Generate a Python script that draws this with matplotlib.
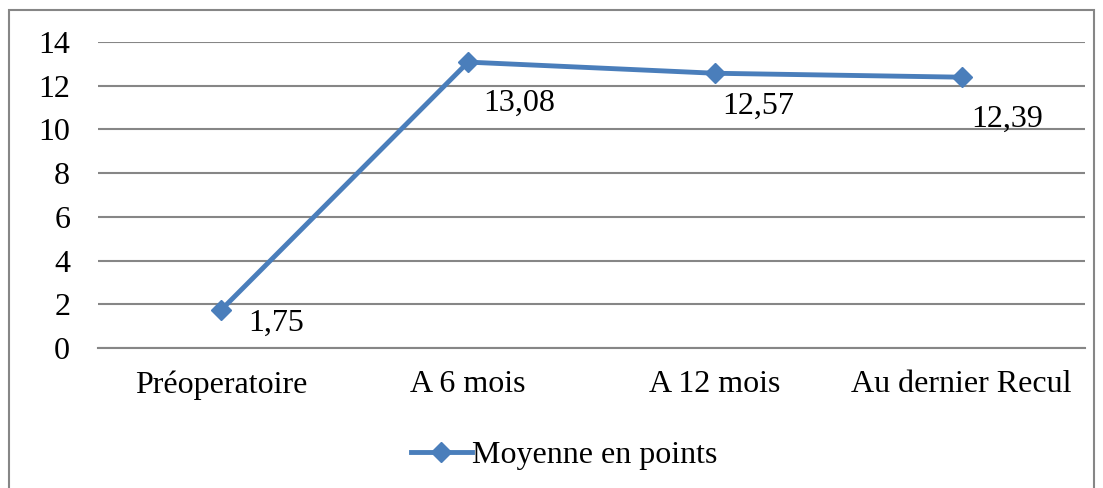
import matplotlib.pyplot as plt
from matplotlib.patches import Rectangle

# ==============================
# DATA
# ==============================
categories = ["Préoperatoire", "A 6 mois", "A 12 mois", "Au dernier Recul"]
moyenne = [1.75, 13.08, 12.57, 12.39]
value_labels = ["1,75", "13,08", "12,57", "12,39"]
y_ticks = [0, 2, 4, 6, 8, 10, 12, 14]

# label offsets in points (dx right, dy down from the marker)
label_offsets = [(19, -10), (11, -30), (5, -24), (7, -30)]

plt.rcParams['font.family'] = ['Liberation Serif', 'DejaVu Serif']

line_color = "#4A7EBB"
grid_color = "#868686"
fsize = 23

# ==============================
# FIGURE
# ==============================
fig = plt.figure(figsize=(11.03, 4.88), dpi=100)
ax = fig.add_axes([98 / 1103, (488 - 348) / 488, 987 / 1103, 306 / 488])

x = list(range(len(categories)))
ax.plot(x, moyenne, color=line_color, lw=3.5, marker="D", markersize=10.5,
        label="Moyenne en points", zorder=3, clip_on=False)

for xi, yi, txt, (dx, dy) in zip(x, moyenne, value_labels, label_offsets):
    ax.annotate(txt, (xi, yi), xytext=(dx, dy), textcoords="offset points",
                ha="left", va="center", fontsize=fsize)

ax.set_xlim(-0.5, len(categories) - 0.5)
ax.set_ylim(0, 14)
ax.set_yticks(y_ticks)
ax.set_xticks(x)
ax.set_xticklabels(categories)
ax.tick_params(axis="both", length=0, labelsize=fsize)
ax.tick_params(axis="y", pad=20)
ax.tick_params(axis="x", pad=16)

ax.grid(axis="y", color=grid_color, lw=1.5)
ax.set_axisbelow(True)
for side in ["left", "right", "top"]:
    ax.spines[side].set_visible(False)
ax.spines["bottom"].set_color(grid_color)
ax.spines["bottom"].set_linewidth(1.5)

leg = fig.legend(loc="center", bbox_to_anchor=(564 / 1103, 1 - 455 / 488),
                 frameon=False, fontsize=fsize, handlelength=1.9,
                 handletextpad=0.0)

# outer chart border
fig.patches.append(Rectangle((9 / 1103, -0.05), (1094 - 9) / 1103, 1.05 - 10 / 488,
                             transform=fig.transFigure, fill=False,
                             edgecolor=grid_color, lw=1.5))

fig.savefig("out.png", dpi=100)
